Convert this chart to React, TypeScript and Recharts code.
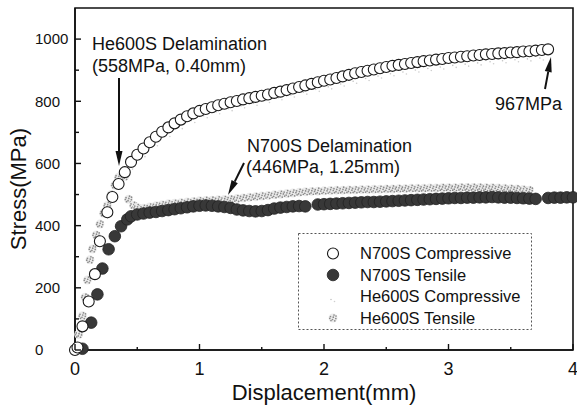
import React from "react";
import { ScatterChart, Scatter, XAxis, YAxis, ReferenceArea } from "recharts";

const FONT = '"Liberation Sans", Arial, sans-serif';

const SERIES_NAMES = ["N700S Compressive", "N700S Tensile", "He600S Compressive", "He600S Tensile"];
const X_TICKS = [0, 0.5, 1, 1.5, 2, 2.5, 3, 3.5, 4];
const Y_TICKS = [0, 100, 200, 300, 400, 500, 600, 700, 800, 900, 1000];

// [displacement mm, stress MPa]
const N700S_COMP: [number, number][] = [
  [0, 0], [0.02, 8], [0.06, 76], [0.11, 156], [0.16, 244], [0.2, 350], [0.26, 443], [0.3, 492],
  [0.35, 534], [0.4, 572], [0.45, 605], [0.5, 628], [0.55, 648], [0.6, 668], [0.65, 686], [0.7, 702],
  [0.75, 716], [0.8, 729], [0.85, 741], [0.9, 752], [0.95, 761], [1.0, 769], [1.05, 775], [1.1, 781],
  [1.15, 787], [1.2, 792], [1.25, 797], [1.3, 801], [1.35, 806], [1.4, 810], [1.45, 814], [1.5, 818],
  [1.55, 822], [1.6, 827], [1.65, 831], [1.7, 836], [1.75, 841], [1.8, 846], [1.85, 851], [1.9, 856],
  [1.95, 861], [2.0, 866], [2.05, 870], [2.1, 875], [2.15, 880], [2.2, 885], [2.25, 890], [2.3, 894],
  [2.35, 898], [2.4, 902], [2.45, 906], [2.5, 910], [2.55, 914], [2.6, 917], [2.65, 920], [2.7, 923],
  [2.75, 926], [2.8, 929], [2.85, 931], [2.9, 934], [2.95, 936], [3.0, 939], [3.05, 941], [3.1, 943],
  [3.15, 945], [3.2, 947], [3.25, 949], [3.3, 951], [3.35, 952], [3.4, 954], [3.45, 955], [3.5, 957],
  [3.55, 958], [3.6, 960], [3.65, 961], [3.7, 963], [3.75, 965], [3.8, 967],
];

const N700S_TENS: [number, number][] = [
  [0.06, 4], [0.13, 88], [0.18, 179], [0.22, 262], [0.27, 324], [0.32, 366], [0.37, 398], [0.42, 420],
  [0.45, 430], [0.5, 436], [0.55, 439], [0.6, 442], [0.65, 444], [0.7, 447], [0.75, 450], [0.8, 453],
  [0.85, 456], [0.9, 459], [0.95, 462], [1.0, 464], [1.05, 465], [1.1, 464], [1.15, 462], [1.2, 460],
  [1.25, 457], [1.3, 452], [1.35, 449], [1.4, 447], [1.45, 446], [1.5, 447], [1.55, 450], [1.6, 455],
  [1.65, 458], [1.7, 460], [1.75, 462], [1.8, 463], [1.85, 462], [1.95, 468], [2.0, 469], [2.05, 470],
  [2.1, 471], [2.15, 472], [2.2, 473], [2.25, 474], [2.3, 475], [2.35, 476], [2.4, 476], [2.45, 477],
  [2.5, 478], [2.55, 479], [2.6, 480], [2.65, 481], [2.7, 482], [2.75, 483], [2.8, 484], [2.85, 485],
  [2.9, 486], [2.95, 487], [3.0, 488], [3.05, 489], [3.1, 489], [3.15, 490], [3.2, 490], [3.25, 491],
  [3.3, 491], [3.35, 492], [3.4, 491], [3.45, 490], [3.5, 490], [3.55, 489], [3.6, 488], [3.65, 487],
  [3.7, 486], [3.8, 489], [3.85, 490], [3.9, 490], [3.95, 491], [4.0, 491],
];

const HE600S_COMP: [number, number][] = [
  [0.05, 90], [0.1, 180], [0.15, 260], [0.2, 350], [0.25, 440], [0.3, 500], [0.35, 545], [0.45, 598],
  [0.55, 638], [0.65, 673], [0.75, 703], [0.85, 728], [0.95, 748], [1.05, 763], [1.15, 776], [1.25, 786],
  [1.35, 795], [1.45, 803], [1.55, 812], [1.65, 821], [1.75, 830], [1.85, 839], [1.95, 848], [2.05, 856],
  [2.15, 865], [2.25, 874], [2.35, 883], [2.45, 891], [2.55, 898], [2.65, 904], [2.75, 910], [2.85, 915],
  [2.95, 920], [3.05, 925], [3.15, 929], [3.25, 933], [3.35, 937], [3.45, 940], [3.55, 943], [3.65, 946],
  [3.75, 949],
];

const HE600S_TENS: [number, number][] = [
  [0.03, 50], [0.06, 110], [0.08, 170], [0.1, 225], [0.12, 290], [0.14, 325], [0.17, 370], [0.2, 405],
  [0.23, 440], [0.26, 465], [0.29, 500], [0.32, 530], [0.35, 556], [0.4, 558], [0.43, 485], [0.47, 465],
  [0.5, 458], [0.55, 456], [0.6, 460], [0.65, 464], [0.7, 467], [0.75, 470], [0.8, 472], [0.85, 474],
  [0.9, 476], [0.95, 478], [1.0, 480], [1.05, 481], [1.1, 482], [1.15, 483], [1.2, 484], [1.25, 485],
  [1.3, 487], [1.35, 489], [1.4, 491], [1.45, 493], [1.5, 495], [1.55, 497], [1.6, 499], [1.65, 501],
  [1.7, 503], [1.75, 505], [1.8, 507], [1.85, 509], [1.9, 510], [1.95, 511], [2.0, 512], [2.05, 513],
  [2.1, 514], [2.15, 514], [2.2, 515], [2.25, 515], [2.3, 516], [2.35, 516], [2.4, 517], [2.45, 517],
  [2.5, 518], [2.55, 518], [2.6, 519], [2.65, 519], [2.7, 520], [2.75, 520], [2.8, 520], [2.85, 521],
  [2.9, 521], [2.95, 522], [3.0, 522], [3.05, 522], [3.1, 523], [3.15, 523], [3.2, 523], [3.25, 523],
  [3.3, 522], [3.35, 522], [3.4, 521], [3.45, 520], [3.5, 519], [3.55, 518], [3.6, 516], [3.65, 514],
];

const toPts = (arr: [number, number][]) => arr.map(([x, y]) => ({ x, y }));

const SPECKS = [[-2.5, -1.5], [1, -3], [2.8, 0.5], [-0.5, 1.5], [-2, 2.5], [1.8, 2.8], [0.3, -0.8], [-3.2, 0.3], [3, -2]];

const OpenCircle = (p: any) => <circle cx={p.cx} cy={p.cy} r={5.5} fill="#fff" stroke="#1a1a1a" strokeWidth={1.1} />;
const FilledCircle = (p: any) => <circle cx={p.cx} cy={p.cy} r={5.8} fill="#383838" stroke="#222" strokeWidth={0.8} />;
const FaintDot = (p: any) => (
  <g>
    <circle cx={p.cx - 2} cy={p.cy + 3} r={0.8} fill="#c4c4c4" />
    <circle cx={p.cx + 1.5} cy={p.cy + 5} r={0.8} fill="#cfcfcf" />
  </g>
);
const Speckle = (p: any) => (
  <g>
    <circle cx={p.cx} cy={p.cy} r={4.5} fill="#ececec" />
    {SPECKS.map(([dx, dy], i) => (
      <circle key={i} cx={p.cx + dx} cy={p.cy + dy} r={0.85} fill="#8a8a8a" />
    ))}
  </g>
);

const XTick = (props: any) => {
  const { x, y, payload } = props;
  const v = payload.value;
  const major = Number.isInteger(v);
  return (
    <g>
      <line x1={x} x2={x} y1={y} y2={y - (major ? 6 : 3)} stroke="#111" strokeWidth={1.4} />
      {major && (
        <text x={x} y={y + 25} textAnchor="middle" fontSize={18} fontFamily={FONT} fill="#111">
          {v}
        </text>
      )}
    </g>
  );
};

const YTick = (props: any) => {
  const { x, y, payload } = props;
  const v = payload.value;
  const major = v % 200 === 0;
  return (
    <g>
      <line x1={x} x2={x + (major ? 6 : 4)} y1={y} y2={y} stroke="#111" strokeWidth={1.4} />
      {major && (
        <text x={35} y={y} dy="0.36em" textAnchor="start" fontSize={15} fontFamily={FONT} fill="#111">
          {v}
        </text>
      )}
    </g>
  );
};

const Arrow = ({ x1, y1, x2, y2 }: { x1: number; y1: number; x2: number; y2: number }) => {
  const len = Math.hypot(x2 - x1, y2 - y1);
  const ux = (x2 - x1) / len;
  const uy = (y2 - y1) / len;
  const hx = x2 - ux * 15;
  const hy = y2 - uy * 15;
  const head = `${x2},${y2} ${hx - uy * 3.5},${hy + ux * 3.5} ${hx + uy * 3.5},${hy - ux * 3.5}`;
  return (
    <g>
      <line x1={x1} y1={y1} x2={hx} y2={hy} stroke="#111" strokeWidth={2} />
      <polygon points={head} fill="#111" />
    </g>
  );
};

const LEGEND_ROWS = [253.5, 275, 296.5, 318];
const LEGEND_ICONS = [OpenCircle, FilledCircle, FaintDot, Speckle];

export default function App() {
  return (
    <div style={{ position: "absolute", left: 0, top: 0, width: 577, height: 407, background: "#fff", fontFamily: FONT }}>
      <ScatterChart width={577} height={407} margin={{ top: 8, right: 4, bottom: 0, left: 0 }}>
        <XAxis
          type="number"
          dataKey="x"
          domain={[0, 4]}
          ticks={X_TICKS}
          interval={0}
          height={57}
          tickSize={0}
          tickMargin={0}
          tickLine={false}
          axisLine={{ stroke: "#111", strokeWidth: 1.5 }}
          tick={<XTick />}
          label={{ value: "Displacement(mm)", position: "insideBottom", offset: 7, fontSize: 22, fill: "#111", fontFamily: FONT }}
        />
        <YAxis
          type="number"
          dataKey="y"
          domain={[0, 1100]}
          ticks={Y_TICKS}
          interval={0}
          width={75}
          tickSize={0}
          tickMargin={0}
          tickLine={false}
          axisLine={{ stroke: "#111", strokeWidth: 1.5 }}
          tick={<YTick />}
          label={{ value: "Stress(MPa)", angle: -90, position: "insideLeft", offset: 18, dy: 10, fontSize: 22, fill: "#111", fontFamily: FONT, style: { textAnchor: "middle" } }}
        />
        <ReferenceArea x1={0} x2={4} y1={0} y2={1100} fill="none" stroke="#111" strokeWidth={1.6} ifOverflow="visible" />
        <Scatter name={SERIES_NAMES[2]} data={toPts(HE600S_COMP)} shape={FaintDot} isAnimationActive={false} />
        <Scatter name={SERIES_NAMES[3]} data={toPts(HE600S_TENS)} shape={Speckle} isAnimationActive={false} />
        <Scatter name={SERIES_NAMES[1]} data={toPts(N700S_TENS)} shape={FilledCircle} isAnimationActive={false} />
        <Scatter name={SERIES_NAMES[0]} data={toPts(N700S_COMP)} shape={OpenCircle} isAnimationActive={false} />
      </ScatterChart>

      <svg width={577} height={407} style={{ position: "absolute", left: 0, top: 0, pointerEvents: "none" }} fontFamily={FONT}>
        <g fontSize={18} fill="#111">
          <text x={92} y={50}>He600S Delamination</text>
          <text x={92} y={72}>(558MPa, 0.40mm)</text>
          <text x={247} y={152}>N700S Delamination</text>
          <text x={246} y={173}>(446MPa, 1.25mm)</text>
          <text x={495} y={110}>967MPa</text>
        </g>
        <Arrow x1={119} y1={78} x2={119} y2={166} />
        <Arrow x1={244} y1={163} x2={228} y2={195} />
        <Arrow x1={545} y1={89} x2={551} y2={57} />

        <rect x={298.5} y={233.5} width={233} height={96} fill="#fff" stroke="#555" strokeWidth={1} strokeDasharray="2 2" />
        {SERIES_NAMES.map((name, i) => {
          const Icon = LEGEND_ICONS[i];
          return (
            <g key={name}>
              <Icon cx={333} cy={LEGEND_ROWS[i]} />
              <text x={360} y={LEGEND_ROWS[i]} dy="0.36em" fontSize={16.5} fill="#111">
                {name}
              </text>
            </g>
          );
        })}
      </svg>
    </div>
  );
}
